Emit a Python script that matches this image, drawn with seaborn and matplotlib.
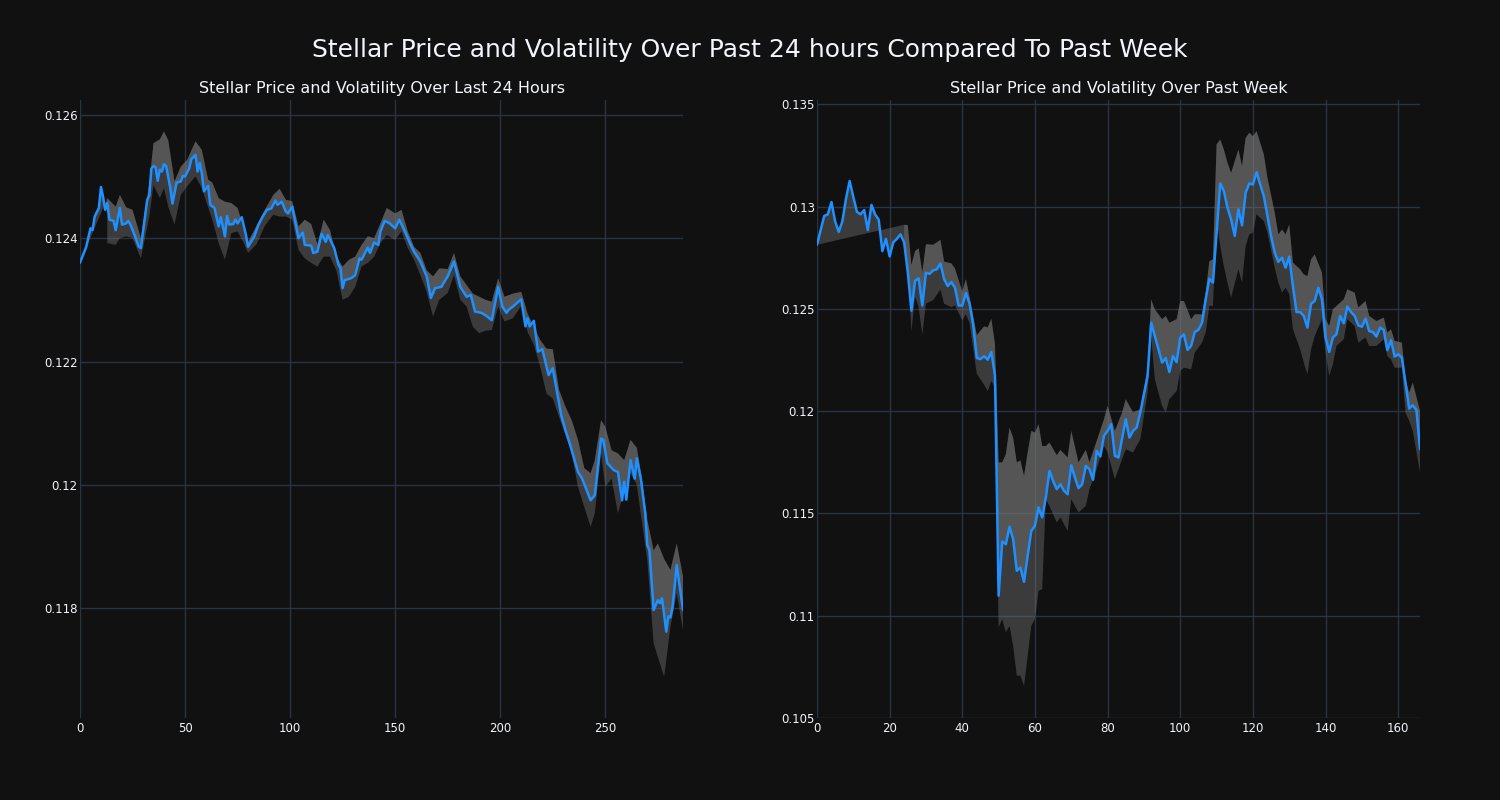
import numpy as np
import matplotlib
matplotlib.use("Agg")
import matplotlib.pyplot as plt
import seaborn as sns
from matplotlib.ticker import MultipleLocator, FuncFormatter

# ---- last 24 hours (5 min steps) ----
day_x = [0, 3, 5, 6, 7, 9, 10, 11, 12, 13, 14, 16, 17, 19, 20, 22, 23, 24, 26, 28,
         29, 32, 33, 34, 35, 36, 37, 38, 39, 40, 41, 43, 44, 46, 48, 49, 50, 52, 53, 55,
         56, 57, 58, 59, 61, 62, 64, 66, 67, 69, 70, 71, 73, 74, 75, 77, 79, 80, 83, 85,
         87, 89, 91, 93, 94, 96, 98, 99, 101, 104, 106, 107, 110, 111, 113, 115, 117, 118, 121, 123,
         124, 125, 126, 129, 131, 133, 134, 137, 138, 140, 142, 143, 145, 147, 150, 152, 155, 157, 159, 162,
         165, 167, 169, 172, 173, 175, 178, 181, 184, 186, 188, 191, 193, 196, 199, 201, 203, 204, 206, 210,
         212, 213, 214, 216, 218, 220, 223, 225, 229, 231, 233, 237, 239, 243, 245, 248, 249, 251, 254, 256,
         258, 259, 260, 262, 264, 265, 267, 269, 270, 271, 273, 275, 276, 277, 279, 280, 281, 282, 284, 285,
         287]
day_price = [0.12360, 0.12386, 0.12416, 0.12413, 0.12435, 0.12449, 0.12483, 0.12467, 0.12446, 0.12457,
             0.12430, 0.12428, 0.12413, 0.12449, 0.12422, 0.12424, 0.12428, 0.12422, 0.12405, 0.12386,
             0.12384, 0.12462, 0.12469, 0.12513, 0.12517, 0.12515, 0.12493, 0.12511, 0.12508, 0.12520,
             0.12517, 0.12481, 0.12456, 0.12490, 0.12492, 0.12501, 0.12500, 0.12513, 0.12528, 0.12535,
             0.12508, 0.12522, 0.12505, 0.12476, 0.12485, 0.12454, 0.12449, 0.12419, 0.12434, 0.12403,
             0.12436, 0.12422, 0.12423, 0.12430, 0.12424, 0.12434, 0.12405, 0.12386, 0.12403, 0.12422,
             0.12435, 0.12446, 0.12448, 0.12461, 0.12454, 0.12459, 0.12443, 0.12440, 0.12451, 0.12400,
             0.12409, 0.12389, 0.12388, 0.12376, 0.12378, 0.12407, 0.12394, 0.12405, 0.12384, 0.12357,
             0.12351, 0.12319, 0.12332, 0.12335, 0.12340, 0.12367, 0.12365, 0.12385, 0.12376, 0.12393,
             0.12389, 0.12411, 0.12428, 0.12425, 0.12416, 0.12430, 0.12408, 0.12392, 0.12378, 0.12362,
             0.12338, 0.12303, 0.12319, 0.12321, 0.12327, 0.12338, 0.12362, 0.12321, 0.12305, 0.12308,
             0.12281, 0.12279, 0.12275, 0.12267, 0.12321, 0.12289, 0.12279, 0.12284, 0.12289, 0.12301,
             0.12257, 0.12270, 0.12257, 0.12266, 0.12216, 0.12220, 0.12178, 0.12189, 0.12113, 0.12089,
             0.12068, 0.12021, 0.12010, 0.11975, 0.11983, 0.12075, 0.12073, 0.12035, 0.12024, 0.12021,
             0.11975, 0.12005, 0.11976, 0.12040, 0.12010, 0.12043, 0.12008, 0.11954, 0.11902, 0.11894,
             0.11797, 0.11813, 0.11808, 0.11816, 0.11762, 0.11787, 0.11785, 0.11802, 0.11870, 0.11845,
             0.11797]
day_band_x = [13, 17, 19, 22, 25, 29, 33, 35, 38, 40, 42, 45, 48, 51, 55, 58, 61, 63, 66, 69,
              72, 75, 78, 80, 84, 88, 92, 95, 98, 101, 104, 107, 110, 113, 116, 119, 122, 125, 128, 131,
              134, 137, 140, 143, 146, 150, 153, 156, 159, 162, 165, 168, 171, 175, 178, 181, 184, 187, 190, 193,
              196, 199, 202, 206, 210, 213, 216, 219, 222, 225, 228, 231, 234, 237, 240, 243, 245, 248, 250, 253,
              256, 259, 262, 265, 267, 270, 273, 275, 278, 281, 284, 287]
day_upper = [0.12465, 0.12451, 0.12470, 0.12450, 0.12446, 0.12400, 0.12489, 0.12554, 0.12560, 0.12573,
             0.12559, 0.12492, 0.12516, 0.12527, 0.12557, 0.12543, 0.12495, 0.12490, 0.12465, 0.12459,
             0.12457, 0.12449, 0.12416, 0.12394, 0.12420, 0.12446, 0.12470, 0.12480, 0.12462, 0.12460,
             0.12419, 0.12430, 0.12423, 0.12390, 0.12430, 0.12413, 0.12370, 0.12354, 0.12365, 0.12370,
             0.12389, 0.12403, 0.12400, 0.12424, 0.12449, 0.12440, 0.12446, 0.12411, 0.12386, 0.12376,
             0.12348, 0.12338, 0.12351, 0.12350, 0.12376, 0.12338, 0.12324, 0.12310, 0.12305, 0.12300,
             0.12297, 0.12335, 0.12305, 0.12310, 0.12313, 0.12278, 0.12256, 0.12235, 0.12221, 0.12220,
             0.12154, 0.12127, 0.12105, 0.12073, 0.12027, 0.12019, 0.12040, 0.12105, 0.12094, 0.12056,
             0.12051, 0.12040, 0.12073, 0.12060, 0.12019, 0.11943, 0.11894, 0.11905, 0.11880, 0.11862,
             0.11905, 0.11851]
day_lower = [0.12392, 0.12389, 0.12400, 0.12403, 0.12400, 0.12367, 0.12435, 0.12486, 0.12465, 0.12481,
             0.12451, 0.12422, 0.12470, 0.12484, 0.12500, 0.12481, 0.12450, 0.12430, 0.12392, 0.12365,
             0.12408, 0.12411, 0.12392, 0.12376, 0.12390, 0.12420, 0.12438, 0.12435, 0.12435, 0.12430,
             0.12381, 0.12367, 0.12360, 0.12354, 0.12370, 0.12370, 0.12348, 0.12300, 0.12305, 0.12321,
             0.12354, 0.12360, 0.12370, 0.12392, 0.12405, 0.12397, 0.12411, 0.12384, 0.12365, 0.12340,
             0.12313, 0.12273, 0.12300, 0.12311, 0.12340, 0.12300, 0.12289, 0.12256, 0.12246, 0.12250,
             0.12251, 0.12289, 0.12265, 0.12270, 0.12290, 0.12248, 0.12227, 0.12192, 0.12148, 0.12140,
             0.12110, 0.12081, 0.12051, 0.11997, 0.11964, 0.11932, 0.11954, 0.12051, 0.11997, 0.12010,
             0.11954, 0.11990, 0.12019, 0.12000, 0.11950, 0.11878, 0.11743, 0.11721, 0.11689, 0.11770,
             0.11824, 0.11764]

# ---- past week (hourly) ----
week_x = list(range(0, 1)) + list(range(2, 84)) + [85, 86, 87, 88, 89, 91, 92, 95, 96, 97, 98, 99,
         100, 101, 102, 103, 104, 105, 106, 107, 108, 109] + list(range(111, 162)) + [163, 164, 165, 166]
week_price = [0.12814, 0.12955, 0.12963, 0.13023, 0.12929, 0.12877, 0.12929, 0.13040, 0.13126, 0.13049,
              0.12975, 0.12963, 0.12984, 0.12886, 0.13009, 0.12963, 0.12937, 0.12783, 0.12843, 0.12757,
              0.12826, 0.12843, 0.12865, 0.12826, 0.12680, 0.12492, 0.12638, 0.12650, 0.12517, 0.12677,
              0.12672, 0.12689, 0.12694, 0.12723, 0.12646, 0.12612, 0.12632, 0.12603, 0.12517, 0.12517,
              0.12578, 0.12526, 0.12423, 0.12260, 0.12255, 0.12269, 0.12252, 0.12290, 0.12175, 0.11098,
              0.11363, 0.11350, 0.11435, 0.11375, 0.11220, 0.11236, 0.11166, 0.11293, 0.11415, 0.11440,
              0.11530, 0.11481, 0.11578, 0.11708, 0.11659, 0.11619, 0.11643, 0.11611, 0.11594, 0.11736,
              0.11676, 0.11624, 0.11643, 0.11733, 0.11717, 0.11665, 0.11806, 0.11779, 0.11880, 0.11904,
              0.11937, 0.11782, 0.11774,
              0.11961, 0.11871, 0.11904, 0.11920, 0.11994, 0.12173, 0.12433, 0.12238, 0.12260, 0.12192,
              0.12270, 0.12240, 0.12360, 0.12376, 0.12300, 0.12320, 0.12388, 0.12398, 0.12433, 0.12547,
              0.12648, 0.12629,
              0.13114, 0.13076, 0.12995, 0.12938, 0.12857, 0.12987, 0.12909, 0.13068, 0.13114, 0.13109,
              0.13169, 0.13109, 0.13052, 0.12954, 0.12857, 0.12775, 0.12730, 0.12751, 0.12702, 0.12756,
              0.12612, 0.12485, 0.12485, 0.12466, 0.12409, 0.12526, 0.12539, 0.12604, 0.12547, 0.12360,
              0.12290, 0.12360, 0.12376, 0.12466, 0.12430, 0.12512, 0.12485, 0.12466, 0.12420, 0.12413,
              0.12453, 0.12392, 0.12387, 0.12365, 0.12409, 0.12398, 0.12299, 0.12348, 0.12267, 0.12279,
              0.12262,
              0.12013, 0.12029, 0.12006, 0.11814]
week_band_x = [24, 25, 26, 27, 28, 29, 30, 32, 34, 35, 37, 38, 40, 41, 42, 44, 46, 47, 48, 49,
               50, 51, 52, 53, 54, 55, 56, 57, 58, 59, 60, 61, 62, 63, 64, 66, 67, 69, 70, 72,
               74, 75, 77, 79, 80, 82, 84, 85, 87, 89, 91, 92, 93, 95, 96, 97, 99, 100, 101, 103,
               104, 106, 107, 108, 109, 110, 111, 112, 113, 114, 116, 117, 118, 119, 120, 121, 123, 124, 126, 127,
               128, 129, 130, 131, 133, 134, 135, 136, 137, 139, 140, 141, 142, 143, 145, 146, 148, 149, 151, 152,
               154, 156, 157, 158, 159, 161, 162, 163, 164, 166]
week_upper = [0.12912, 0.12910, 0.12715, 0.12783, 0.12797, 0.12680, 0.12817, 0.12814, 0.12838, 0.12732,
              0.12723, 0.12697, 0.12586, 0.12646, 0.12560, 0.12372, 0.12415, 0.12410, 0.12452, 0.12329,
              0.11750, 0.11750, 0.11790, 0.11920, 0.11871, 0.11750, 0.11760, 0.11684, 0.11798, 0.11904,
              0.11896, 0.11937, 0.11830, 0.11830, 0.11847, 0.11785, 0.11811, 0.11774, 0.11904, 0.11750,
              0.11811, 0.11750, 0.11855, 0.11961, 0.12026, 0.11904, 0.11994, 0.12059, 0.11994, 0.12010,
              0.12205, 0.12547, 0.12498, 0.12450, 0.12466, 0.12433, 0.12450, 0.12539, 0.12539, 0.12450,
              0.12474, 0.12474, 0.12580, 0.12734, 0.12743, 0.13305, 0.13329, 0.13280, 0.13215, 0.13166,
              0.13280, 0.13199, 0.13337, 0.13362, 0.13345, 0.13370, 0.13256, 0.13142, 0.12971, 0.12865,
              0.12889, 0.12865, 0.12914, 0.12727, 0.12694, 0.12669, 0.12661, 0.12743, 0.12767, 0.12678,
              0.12450, 0.12417, 0.12498, 0.12515, 0.12547, 0.12596, 0.12580, 0.12507, 0.12539, 0.12466,
              0.12441, 0.12458, 0.12385, 0.12401, 0.12344, 0.12336, 0.12156, 0.12091, 0.12140, 0.12000]
week_lower = [0.12840, 0.12715, 0.12389, 0.12560, 0.12509, 0.12375, 0.12526, 0.12543, 0.12595, 0.12526,
              0.12509, 0.12517, 0.12444, 0.12474, 0.12432, 0.12183, 0.12130, 0.12098, 0.12149, 0.12115,
              0.10943, 0.10984, 0.10919, 0.10951, 0.10853, 0.10707, 0.10707, 0.10658, 0.10804, 0.10951,
              0.10984, 0.11122, 0.11130, 0.11570, 0.11537, 0.11456, 0.11481, 0.11415, 0.11570, 0.11505,
              0.11537, 0.11619, 0.11717, 0.11830, 0.11800, 0.11668, 0.11766, 0.11814, 0.11798, 0.11863,
              0.12091, 0.12368, 0.12156, 0.12026, 0.11994, 0.12059, 0.12099, 0.12197, 0.12213, 0.12205,
              0.12287, 0.12336, 0.12385, 0.12515, 0.12515, 0.12938, 0.12808, 0.12710, 0.12629, 0.12556,
              0.12694, 0.12629, 0.12808, 0.12865, 0.12873, 0.12963, 0.12930, 0.12873, 0.12702, 0.12629,
              0.12580, 0.12604, 0.12572, 0.12401, 0.12303, 0.12238, 0.12181, 0.12303, 0.12368, 0.12450,
              0.12287, 0.12173, 0.12230, 0.12319, 0.12352, 0.12450, 0.12417, 0.12336, 0.12360, 0.12319,
              0.12319, 0.12352, 0.12270, 0.12254, 0.12213, 0.12213, 0.11994, 0.11953, 0.11904, 0.11700]

BG = "#111111"
GRID = "#283442"
TXT = "#f2f5fa"

sns.set_theme(style="darkgrid", rc={
    "figure.facecolor": BG, "axes.facecolor": BG, "axes.edgecolor": BG,
    "grid.color": GRID, "grid.linewidth": 1.0, "text.color": TXT,
    "xtick.color": TXT, "ytick.color": TXT, "axes.labelcolor": TXT,
})

fig, (ax1, ax2) = plt.subplots(1, 2, figsize=(15, 8), dpi=100)
fig.subplots_adjust(left=0.0533, right=0.9467, bottom=0.1025, top=0.875, wspace=0.222)


def draw(ax, x, price, bx, upper, lower, title):
    x = np.asarray(x); price = np.asarray(price)
    bx = np.asarray(bx); upper = np.asarray(upper); lower = np.asarray(lower)
    # upper band traced back along the price, then lower band back along the upper
    ax.fill(np.r_[bx, x[::-1]], np.r_[upper, price[::-1]], color="grey", alpha=0.38, lw=0, zorder=2)
    ax.fill(np.r_[bx, bx[::-1]], np.r_[lower, upper[::-1]], color="grey", alpha=0.38, lw=0, zorder=2)
    sns.lineplot(x=x, y=price, ax=ax, color="#1e90ff", linewidth=1.8, zorder=3)
    ax.set_title(title, fontsize=11.5, color=TXT, pad=5)
    ax.set_xlabel("")
    ax.set_ylabel("")
    for s in ax.spines.values():
        s.set_visible(False)
    ax.tick_params(labelsize=8.5, length=0, pad=3)
    ax.tick_params(axis="y", pad=1.5)
    ax.yaxis.set_major_formatter(FuncFormatter(lambda v, p: f"{v:g}"))


draw(ax1, day_x, day_price, day_band_x, day_upper, day_lower,
     "Stellar Price and Volatility Over Last 24 Hours")
ax1.set_xlim(0, 287)
ax1.set_ylim(0.11622, 0.12624)
ax1.xaxis.set_major_locator(MultipleLocator(50))
ax1.yaxis.set_major_locator(MultipleLocator(0.002))

draw(ax2, week_x, week_price, week_band_x, week_upper, week_lower,
     "Stellar Price and Volatility Over Past Week")
ax2.set_xlim(0, 166)
ax2.set_ylim(0.105, 0.13522)
ax2.xaxis.set_major_locator(MultipleLocator(20))
ax2.yaxis.set_major_locator(MultipleLocator(0.005))

fig.suptitle("Stellar Price and Volatility Over Past 24 hours Compared To Past Week",
             y=0.9375, va="center", fontsize=18, color=TXT)

fig.savefig("out.png", dpi=100, facecolor=BG)
